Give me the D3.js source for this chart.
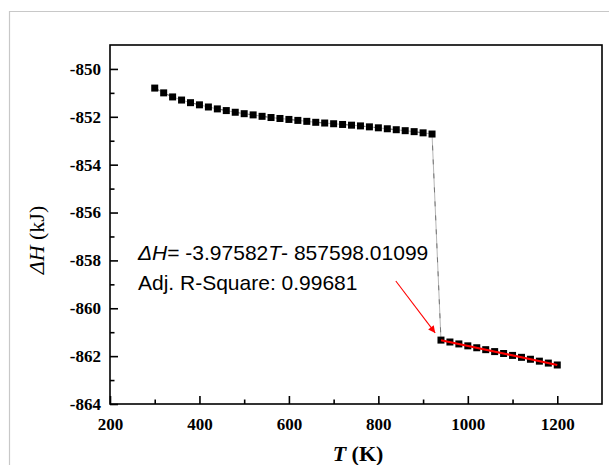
<!DOCTYPE html>
<html>
<head>
<meta charset="utf-8">
<script src="https://cdn.jsdelivr.net/npm/d3@7"></script>
<style>
  html, body { margin: 0; padding: 0; background: #fff; }
  svg { display: block; }
</style>
</head>
<body>
<svg id="chart" width="609" height="465"></svg>
<script>
// ---- data ----
const tempLow = [300,320,340,360,380,400,420,440,460,480,500,520,540,560,580,600,620,640,660,680,700,720,740,760,780,800,820,840,860,880,900,920];
const dHLow = [-850.80,-851.00,-851.17,-851.30,-851.41,-851.50,-851.59,-851.67,-851.74,-851.81,-851.87,-851.92,-851.98,-852.03,-852.07,-852.11,-852.15,-852.19,-852.23,-852.26,-852.29,-852.32,-852.35,-852.38,-852.42,-852.46,-852.50,-852.54,-852.58,-852.62,-852.67,-852.72];
const tempHigh = [940,960,980,1000,1020,1040,1060,1080,1100,1120,1140,1160,1180,1200];
const dHHigh = [-861.33,-861.41,-861.49,-861.57,-861.65,-861.73,-861.81,-861.89,-861.97,-862.05,-862.13,-862.21,-862.29,-862.37];
const fitSlope = -3.97582;        // J/K
const fitIntercept = -857598.01099; // J
const fitRange = [940, 1200];
const xTickLabels = [200, 400, 600, 800, 1000, 1200];
const xMinorTicks = [300, 500, 700, 900, 1100];
const yTickLabels = [-850, -852, -854, -856, -858, -860, -862, -864];
const yMinorTicks = [-851, -853, -855, -857, -859, -861, -863];
const arrowFrom = [839, -858.86];
const arrowTo = [927, -861.03];

// ---- layout ----
const svg = d3.select("#chart");
const L = 110, R = 602, T = 45, B = 404;
const x = d3.scaleLinear().domain([200, 1300]).range([L, R]);
const y = d3.scaleLinear().domain([-864, -849]).range([B, T]);

// outer light border
svg.append("path").attr("d", "M9.5,465 L9.5,11.5 L609,11.5")
  .attr("fill", "none").attr("stroke", "#c8c8c8").attr("stroke-width", 1.2);

const serif = "'Liberation Serif', 'Times New Roman', serif";
const fmt = d => String(d);

// axes
const xAxis = svg.append("g").attr("transform", `translate(0,${B})`)
  .call(d3.axisBottom(x).tickValues(xTickLabels).tickSize(-8).tickPadding(14).tickFormat(fmt));
const xMinor = svg.append("g").attr("transform", `translate(0,${B})`)
  .call(d3.axisBottom(x).tickValues(xMinorTicks).tickSize(-4.5).tickFormat(""));
const yAxis = svg.append("g").attr("transform", `translate(${L},0)`)
  .call(d3.axisLeft(y).tickValues(yTickLabels).tickSize(-8).tickPadding(9).tickFormat(fmt));
const yMinor = svg.append("g").attr("transform", `translate(${L},0)`)
  .call(d3.axisLeft(y).tickValues(yMinorTicks).tickSize(-4.5).tickFormat(""));

[xAxis, xMinor, yAxis, yMinor].forEach(g => {
  g.attr("font-family", null).attr("font-size", null);
  g.select(".domain").remove();
  g.selectAll(".tick line").attr("stroke", "#000").attr("stroke-width", 1.6);
  g.selectAll(".tick text")
    .style("font-family", serif).style("font-weight", "700")
    .style("font-size", "17px").style("fill", "#000");
});

// frame
svg.append("rect").attr("x", L).attr("y", T).attr("width", R - L).attr("height", B - T)
  .attr("fill", "none").attr("stroke", "#000").attr("stroke-width", 1.6);

// connecting line
const allPts = tempLow.map((t, i) => [t, dHLow[i]]).concat(tempHigh.map((t, i) => [t, dHHigh[i]]));
svg.append("path").datum(allPts)
  .attr("d", d3.line().x(d => x(d[0])).y(d => y(d[1])))
  .attr("fill", "none").attr("stroke", "#b5b5b5").attr("stroke-width", 1);
svg.append("path").datum(allPts)
  .attr("d", d3.line().x(d => x(d[0])).y(d => y(d[1])))
  .attr("fill", "none").attr("stroke", "#777").attr("stroke-width", 1)
  .attr("stroke-dasharray", "5,9");

// squares
const sq = 7;
svg.append("g").selectAll("rect").data(allPts).join("rect")
  .attr("x", d => x(d[0]) - sq / 2).attr("y", d => y(d[1]) - sq / 2)
  .attr("width", sq).attr("height", sq).attr("fill", "#000");

// fit line
const fitPts = fitRange.map(t => [t, (fitSlope * t + fitIntercept) / 1000]);
svg.append("path").datum(fitPts)
  .attr("d", d3.line().x(d => x(d[0])).y(d => y(d[1])))
  .attr("fill", "none").attr("stroke", "#ff0000").attr("stroke-width", 2.2);

// arrow
const defs = svg.append("defs");
defs.append("marker").attr("id", "ah").attr("viewBox", "0 0 10 10")
  .attr("refX", 10).attr("refY", 5).attr("markerWidth", 10).attr("markerHeight", 7)
  .attr("markerUnits", "userSpaceOnUse").attr("orient", "auto")
  .append("path").attr("d", "M0,0 L10,5 L0,10 Z").attr("fill", "#ff0000");
svg.append("line")
  .attr("x1", x(arrowFrom[0])).attr("y1", y(arrowFrom[1]))
  .attr("x2", x(arrowTo[0])).attr("y2", y(arrowTo[1]))
  .attr("stroke", "#ff0000").attr("stroke-width", 1.1).attr("marker-end", "url(#ah)");

// annotation text
const sans = "'Liberation Sans', Arial, sans-serif";
const t1 = svg.append("text").attr("x", 138).attr("y", 259.5)
  .attr("font-family", sans).attr("font-size", 21).attr("fill", "#000");
t1.append("tspan").attr("font-style", "italic").text("ΔH");
t1.append("tspan").text("= -3.97582");
t1.append("tspan").attr("font-style", "italic").text("T");
t1.append("tspan").text("- 857598.01099");
svg.append("text").attr("x", 138).attr("y", 290)
  .attr("font-family", sans).attr("font-size", 21).attr("fill", "#000")
  .text("Adj. R-Square: 0.99681");

// axis titles
const xt = svg.append("text").attr("x", (L + R) / 2 + 2).attr("y", 461)
  .attr("text-anchor", "middle").attr("font-family", serif)
  .attr("font-weight", "bold").attr("font-size", 22).attr("fill", "#000");
xt.append("tspan").attr("font-style", "italic").text("T");
xt.append("tspan").text(" (K)");

const yt = svg.append("text").attr("transform", `translate(44,240) rotate(-90)`)
  .attr("text-anchor", "middle").attr("font-family", serif)
  .attr("font-size", 22).attr("fill", "#000");
yt.append("tspan").attr("font-style", "italic").text("ΔH");
yt.append("tspan").text(" (kJ)");
</script>
</body>
</html>
